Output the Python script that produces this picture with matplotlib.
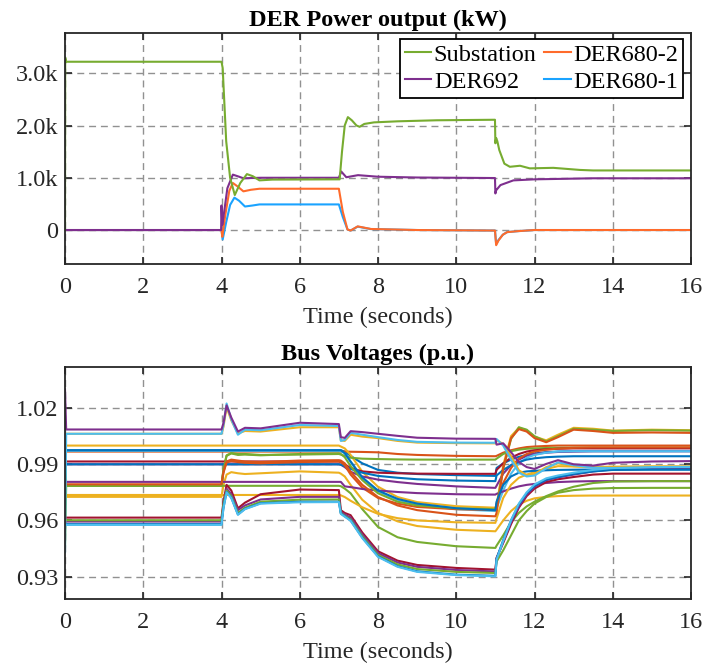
import matplotlib
matplotlib.use('Agg')
import matplotlib.pyplot as plt
from matplotlib.ticker import FixedLocator

# ---- DER power output (kW) ----
t_sub = [0, 0.005, 0.03, 4.0, 4.03, 4.12, 4.22, 4.34, 4.48, 4.65, 4.8, 4.97, 5.3, 7.02,
         7.08, 7.15, 7.23, 7.33, 7.45, 7.53, 7.65, 7.9, 8.5, 9.5, 10.99,
         11.0, 11.02, 11.05, 11.1, 11.23, 11.37, 11.5, 11.63, 11.88, 12.48, 13.16, 13.5, 16.0]
p_sub = [0, 3300, 3220, 3220, 3100, 1700, 1000, 670, 900, 1070, 1030, 950, 965, 970,
         1500, 2000, 2160, 2100, 2000, 1975, 2030, 2060, 2080, 2100, 2110,
         1660, 1760, 1700, 1530, 1270, 1210, 1220, 1230, 1180, 1190, 1150, 1140, 1140]

t_692 = [0, 3.99, 4.0, 4.02, 4.05, 4.15, 4.29, 4.45, 4.56, 5.0, 7.0, 7.06, 7.19, 7.49,
         8.0, 9.0, 10.99, 11.0, 11.02, 11.13, 11.46, 12.0, 13.5, 16.0]
p_692 = [0, 0, 470, 100, 250, 800, 1060, 1020, 990, 1000, 1000, 1120, 1010, 1050,
         1020, 1005, 995, 700, 760, 860, 950, 970, 990, 990]

t_680_2 = [0, 4.0, 4.02, 4.1, 4.2, 4.29, 4.4, 4.56, 4.75, 4.97, 7.0, 7.1, 7.22, 7.3,
           7.48, 7.82, 9.0, 10.99, 11.02, 11.08, 11.19, 11.3, 11.6, 12.0, 16.0]
p_680_2 = [0, 0, -130, 300, 750, 900, 840, 740, 770, 790, 790, 350, 10, -10,
           70, 20, 0, -10, -290, -200, -90, -40, -20, 0, 0]

t_680_1 = [0, 4.0, 4.03, 4.12, 4.22, 4.33, 4.45, 4.6, 4.8, 4.97, 7.0, 7.1, 7.22, 7.3,
           7.48, 7.82, 9.0, 10.99, 11.02, 11.08, 11.19, 11.3, 11.6, 12.0, 16.0]
p_680_1 = [0, 0, -180, 150, 480, 620, 560, 450, 470, 490, 490, 250, 10, -10,
           65, 18, 0, -10, -270, -190, -90, -40, -20, 0, 0]

# ---- bus voltages (p.u.), all sampled on t_bus ----
t_bus = [0, 0.03, 4.0, 4.05, 4.13, 4.25, 4.42, 4.6, 5.0, 6.0, 7.0,
         7.05, 7.15, 7.3, 7.6, 8.0, 8.5, 9.0, 10.0, 11.0,
         11.03, 11.2, 11.4, 11.6, 11.8, 12.0, 12.3, 12.6, 13.0, 13.5, 14.0, 15.0, 16.0]

v_blue_1 = [0.9975] * 11 + [0.9975, 0.9968, 0.9945, 0.9905, 0.9870, 0.9855, 0.9848, 0.9842, 0.9838,
            0.9880, 0.9905, 0.9925, 0.9940, 0.9950, 0.9958, 0.9965, 0.9968, 0.9970, 0.9970, 0.9970, 0.9970, 0.9970]
v_blue_2 = [0.9975] * 11 + [0.9975, 0.9960, 0.9915, 0.9830, 0.9760, 0.9715, 0.9690, 0.9665, 0.9655,
            0.9700, 0.9790, 0.9835, 0.9855, 0.9862, 0.9865, 0.9868, 0.9870, 0.9871, 0.9872, 0.9872, 0.9872, 0.9872]
v_blue_3 = [0.9900] * 11 + [0.9898, 0.9890, 0.9875, 0.9855, 0.9838, 0.9828, 0.9820, 0.9813, 0.9810,
            0.9840, 0.9870, 0.9895, 0.9912, 0.9925, 0.9932, 0.9938, 0.9941, 0.9943, 0.9943, 0.9943, 0.9943, 0.9943]
v_blue_4 = [0.9580, 0.9580, 0.9580, 0.9668, 0.9752, 0.9722, 0.9632, 0.9662, 0.9692, 0.9700, 0.9700,
            0.9637, 0.9622, 0.9600, 0.9508, 0.9408, 0.9355, 0.9328, 0.9310, 0.9304,
            0.9395, 0.9495, 0.9600, 0.9685, 0.9745, 0.9785, 0.9818, 0.9832, 0.9848, 0.9862, 0.9870, 0.9872, 0.9872]

v_orange_1 = [0.9968] * 11 + [0.9968, 0.9968, 0.9967, 0.9966, 0.9964, 0.9955, 0.9950, 0.9945, 0.9943,
              0.9945, 0.9962, 0.9975, 0.9985, 0.9992, 0.9995, 0.9998, 1.0000, 1.0000, 1.0000, 1.0000, 1.0000, 1.0000]
v_orange_2 = [0.9793, 0.9793, 0.9793, 0.9860, 0.9915, 0.9925, 0.9920, 0.9915, 0.9912, 0.9920, 0.9922,
              0.9920, 0.9905, 0.9860, 0.9790, 0.9725, 0.9680, 0.9655, 0.9630, 0.9622,
              0.9640, 0.9880, 1.0040, 1.0088, 1.0075, 1.0040, 1.0018, 1.0045, 1.0085, 1.0078, 1.0068, 1.0070, 1.0068]
v_orange_3 = [0.9790, 0.9790, 0.9790, 0.9855, 0.9910, 0.9918, 0.9912, 0.9908, 0.9905, 0.9912, 0.9915,
              0.9912, 0.9895, 0.9845, 0.9775, 0.9720, 0.9690, 0.9672, 0.9660, 0.9655,
              0.9690, 0.9800, 0.9880, 0.9930, 0.9955, 0.9968, 0.9978, 0.9984, 0.9988, 0.9990, 0.9990, 0.9990, 0.9990]

v_yellow_1 = [1.0063, 1.0063, 1.0063, 1.0100, 1.0205, 1.0135, 1.0065, 1.0078, 1.0075, 1.0098, 1.0098,
              1.0028, 1.0025, 1.0058, 1.0048, 1.0040, 1.0025, 1.0016, 1.0013, 1.0012,
              1.0030, 1.0008, 0.9945, 0.9868, 0.9842, 0.9848, 0.9885, 0.9905, 0.9890, 0.9885, 0.9885, 0.9888, 0.9888]
v_yellow_2 = [1.0000] * 11 + [0.9995, 0.9985, 0.9950, 0.9860, 0.9780, 0.9725, 0.9698, 0.9676, 0.9668,
              0.9680, 0.9895, 1.0050, 1.0095, 1.0082, 1.0048, 1.0028, 1.0058, 1.0095, 1.0090, 1.0080, 1.0085, 1.0082]
v_yellow_3 = [0.9736] * 11 + [0.9734, 0.9725, 0.9705, 0.9670, 0.9635, 0.9612, 0.9600, 0.9590, 0.9587,
              0.9610, 0.9720, 0.9790, 0.9828, 0.9845, 0.9858, 0.9875, 0.9890, 0.9888, 0.9886, 0.9887, 0.9888, 0.9888]
v_yellow_4 = [0.9726, 0.9726, 0.9726, 0.9790, 0.9845, 0.9858, 0.9852, 0.9848, 0.9852, 0.9862, 0.9855,
              0.9850, 0.9835, 0.9790, 0.9710, 0.9640, 0.9595, 0.9570, 0.9550, 0.9542,
              0.9550, 0.9600, 0.9650, 0.9685, 0.9705, 0.9718, 0.9726, 0.9730, 0.9732, 0.9733, 0.9733, 0.9733, 0.9733]

v_purple_1 = [1.0300, 1.0086, 1.0086, 1.0120, 1.0215, 1.0150, 1.0075, 1.0095, 1.0092, 1.0122, 1.0115,
              1.0045, 1.0041, 1.0077, 1.0072, 1.0063, 1.0052, 1.0042, 1.0037, 1.0036,
              1.0005, 1.0012, 0.9965, 0.9912, 0.9885, 0.9875, 0.9902, 0.9922, 0.9900, 0.9893, 0.9908, 0.9915, 0.9917]
v_purple_2 = [0.9806] * 11 + [0.9806, 0.9782, 0.9778, 0.9768, 0.9760, 0.9752, 0.9746, 0.9740, 0.9738,
              0.9742, 0.9755, 0.9770, 0.9782, 0.9790, 0.9795, 0.9800, 0.9805, 0.9808, 0.9810, 0.9810, 0.9810, 0.9810]
v_purple_3 = [0.9594, 0.9594, 0.9594, 0.9680, 0.9770, 0.9740, 0.9655, 0.9680, 0.9712, 0.9726, 0.9726,
              0.9645, 0.9632, 0.9615, 0.9525, 0.9425, 0.9375, 0.9352, 0.9335, 0.9327,
              0.9395, 0.9485, 0.9590, 0.9675, 0.9738, 0.9780, 0.9815, 0.9830, 0.9845, 0.9862, 0.9872, 0.9876, 0.9878]
v_purple_4 = [0.9900] * 11 + [0.9898, 0.9885, 0.9860, 0.9835, 0.9818, 0.9805, 0.9795, 0.9782, 0.9774,
              0.9785, 0.9850, 0.9895, 0.9925, 0.9945, 0.9955, 0.9962, 0.9966, 0.9968, 0.9970, 0.9970, 0.9970, 0.9970]

v_green_1 = [0.9460, 0.9785, 0.9785, 0.9870, 0.9945, 0.9958, 0.9950, 0.9952, 0.9948, 0.9955, 0.9958,
             0.9955, 0.9938, 0.9890, 0.9815, 0.9745, 0.9700, 0.9680, 0.9665, 0.9660,
             0.9670, 0.9875, 1.0035, 1.0098, 1.0085, 1.0050, 1.0022, 1.0050, 1.0090, 1.0085, 1.0078, 1.0082, 1.0080]
v_green_2 = [0.9995, 0.9785, 0.9785, 0.9875, 0.9948, 0.9960, 0.9955, 0.9955, 0.9950, 0.9952, 0.9955,
             0.9952, 0.9945, 0.9935, 0.9930, 0.9928, 0.9926, 0.9925, 0.9925, 0.9925,
             0.9930, 0.9955, 0.9970, 0.9978, 0.9983, 0.9985, 0.9987, 0.9988, 0.9988, 0.9988, 0.9988, 0.9988, 0.9988]
v_green_3 = [0.9785] * 11 + [0.9783, 0.9770, 0.9745, 0.9660, 0.9565, 0.9510, 0.9485, 0.9462, 0.9453,
             0.9465, 0.9520, 0.9590, 0.9640, 0.9675, 0.9700, 0.9730, 0.9755, 0.9780, 0.9800, 0.9808, 0.9810, 0.9810]
v_green_4 = [0.9601, 0.9601, 0.9601, 0.9685, 0.9760, 0.9730, 0.9640, 0.9668, 0.9700, 0.9711, 0.9712,
             0.9640, 0.9625, 0.9605, 0.9515, 0.9415, 0.9365, 0.9340, 0.9325, 0.9319,
             0.9380, 0.9440, 0.9520, 0.9600, 0.9650, 0.9690, 0.9725, 0.9748, 0.9762, 0.9770, 0.9773, 0.9774, 0.9774]

v_lblue_1 = [0.9430, 1.0063, 1.0063, 1.0110, 1.0225, 1.0140, 1.0058, 1.0085, 1.0082, 1.0110, 1.0105,
             1.0025, 1.0030, 1.0068, 1.0058, 1.0045, 1.0030, 1.0020, 1.0016, 1.0015,
             1.0035, 1.0000, 0.9925, 0.9855, 0.9835, 0.9840, 0.9878, 0.9910, 0.9895, 0.9882, 0.9880, 0.9885, 0.9886]
v_lblue_2 = [0.9576, 0.9576, 0.9576, 0.9665, 0.9750, 0.9720, 0.9630, 0.9660, 0.9690, 0.9697, 0.9698,
             0.9635, 0.9620, 0.9598, 0.9505, 0.9405, 0.9352, 0.9325, 0.9308, 0.9301,
             0.9390, 0.9490, 0.9600, 0.9690, 0.9750, 0.9792, 0.9825, 0.9840, 0.9855, 0.9870, 0.9880, 0.9885, 0.9886]
v_lblue_3 = [0.9972] * 11 + [0.9970, 0.9958, 0.9912, 0.9825, 0.9755, 0.9710, 0.9685, 0.9660, 0.9650,
             0.9665, 0.9760, 0.9850, 0.9905, 0.9935, 0.9950, 0.9962, 0.9968, 0.9970, 0.9970, 0.9970, 0.9970, 0.9970]

v_red_1 = [0.9915] * 11 + [0.9912, 0.9900, 0.9880, 0.9862, 0.9855, 0.9852, 0.9850, 0.9849, 0.9849,
           0.9870, 0.9905, 0.9935, 0.9955, 0.9968, 0.9975, 0.9980, 0.9983, 0.9985, 0.9985, 0.9985, 0.9985, 0.9985]
v_red_2 = [0.9615, 0.9615, 0.9615, 0.9700, 0.9790, 0.9760, 0.9665, 0.9695, 0.9740, 0.9765, 0.9762,
           0.9655, 0.9640, 0.9628, 0.9535, 0.9435, 0.9385, 0.9362, 0.9346, 0.9337,
           0.9400, 0.9480, 0.9580, 0.9668, 0.9730, 0.9770, 0.9805, 0.9820, 0.9832, 0.9845, 0.9850, 0.9850, 0.9850]

# MATLAB default line colours
BLUE, ORANGE, YELLOW, PURPLE = '#0072BD', '#D95319', '#EDB120', '#7E2F8E'
GREEN, LBLUE, RED = '#77AC30', '#4DBEEE', '#A2142F'

bus_traces = [
    (v_blue_1, BLUE), (v_orange_1, ORANGE), (v_yellow_2, YELLOW), (v_purple_4, PURPLE),
    (v_green_2, GREEN), (v_lblue_3, LBLUE), (v_red_1, RED),
    (v_blue_3, BLUE), (v_orange_3, ORANGE), (v_yellow_4, YELLOW), (v_purple_2, PURPLE),
    (v_green_3, GREEN), (v_yellow_3, YELLOW), (v_green_1, GREEN), (v_orange_2, ORANGE),
    (v_blue_2, BLUE), (v_red_2, RED), (v_purple_3, PURPLE), (v_green_4, GREEN),
    (v_blue_4, BLUE), (v_lblue_2, LBLUE),
    (v_yellow_1, YELLOW), (v_lblue_1, LBLUE), (v_purple_1, PURPLE),
]

plt.rcParams['font.family'] = ['Liberation Serif', 'DejaVu Serif']
plt.rcParams['font.size'] = 17.5

fig = plt.figure(figsize=(7.05, 6.64), dpi=100)
ax1 = fig.add_axes([65 / 705, 1 - 264 / 664, 626 / 705, 231 / 664])
ax2 = fig.add_axes([65 / 705, 1 - 599 / 664, 626 / 705, 232 / 664])


def style_axes(ax):
    ax.set_xlim(0, 16)
    ax.xaxis.set_major_locator(FixedLocator(range(0, 17, 2)))
    ax.grid(True, color='#919191', linestyle=(0, (5, 3.5)), linewidth=1.0)
    ax.set_axisbelow(True)
    ax.tick_params(direction='in', top=True, right=True, length=5, width=1.2,
                   color='#262626', labelcolor='#262626', labelsize=17.5)
    ax.tick_params(axis='x', pad=9)
    ax.tick_params(axis='y', pad=5)
    for s in ax.spines.values():
        s.set_linewidth(1.3)
        s.set_color('#262626')
    ax.set_xlabel('Time (seconds)', labelpad=7, color='#262626')


# top: DER power
lw = 1.5
ax1.plot(t_680_1, p_680_1, color='#1AA3FF', lw=lw, label='DER680-1')
ax1.plot(t_680_2, p_680_2, color='#FF6B2B', lw=lw, label='DER680-2')
ax1.plot(t_692, p_692, color='#7E2F8E', lw=lw, label='DER692')
ax1.plot(t_sub, p_sub, color='#77AC30', lw=lw, label='Substation')
ax1.set_ylim(-650, 3770)
ax1.set_yticks([0, 1000, 2000, 3000])
ax1.set_yticklabels(['0', '1.0k', '2.0k', '3.0k'])
style_axes(ax1)
ax1.set_title('DER Power output (kW)', fontweight='bold', fontsize=17.5, pad=5)

h, l = ax1.get_legend_handles_labels()
order = [l.index(n) for n in ['Substation', 'DER692', 'DER680-2', 'DER680-1']]
leg = ax1.legend([h[i] for i in order], [l[i] for i in order], ncol=2,
                 loc='upper right', bbox_to_anchor=(683 / 705, 1 - 39 / 664),
                 bbox_transform=fig.transFigure, borderaxespad=0,
                 fancybox=False, framealpha=1, edgecolor='black',
                 handlelength=1.1, handletextpad=0.1, columnspacing=0.3,
                 labelspacing=0.2, borderpad=0.2, fontsize=17.5)
leg.get_frame().set_linewidth(1.3)

# bottom: bus voltages
for vals, c in bus_traces:
    ax2.plot(t_bus, vals, color=c, lw=lw)
ax2.set_ylim(0.918, 1.042)
ax2.set_yticks([0.93, 0.96, 0.99, 1.02])
ax2.set_yticklabels(['0.93', '0.96', '0.99', '1.02'])
style_axes(ax2)
ax2.set_title('Bus Voltages (p.u.)', fontweight='bold', fontsize=17.5, pad=5)

fig.savefig('out.png', dpi=100)
